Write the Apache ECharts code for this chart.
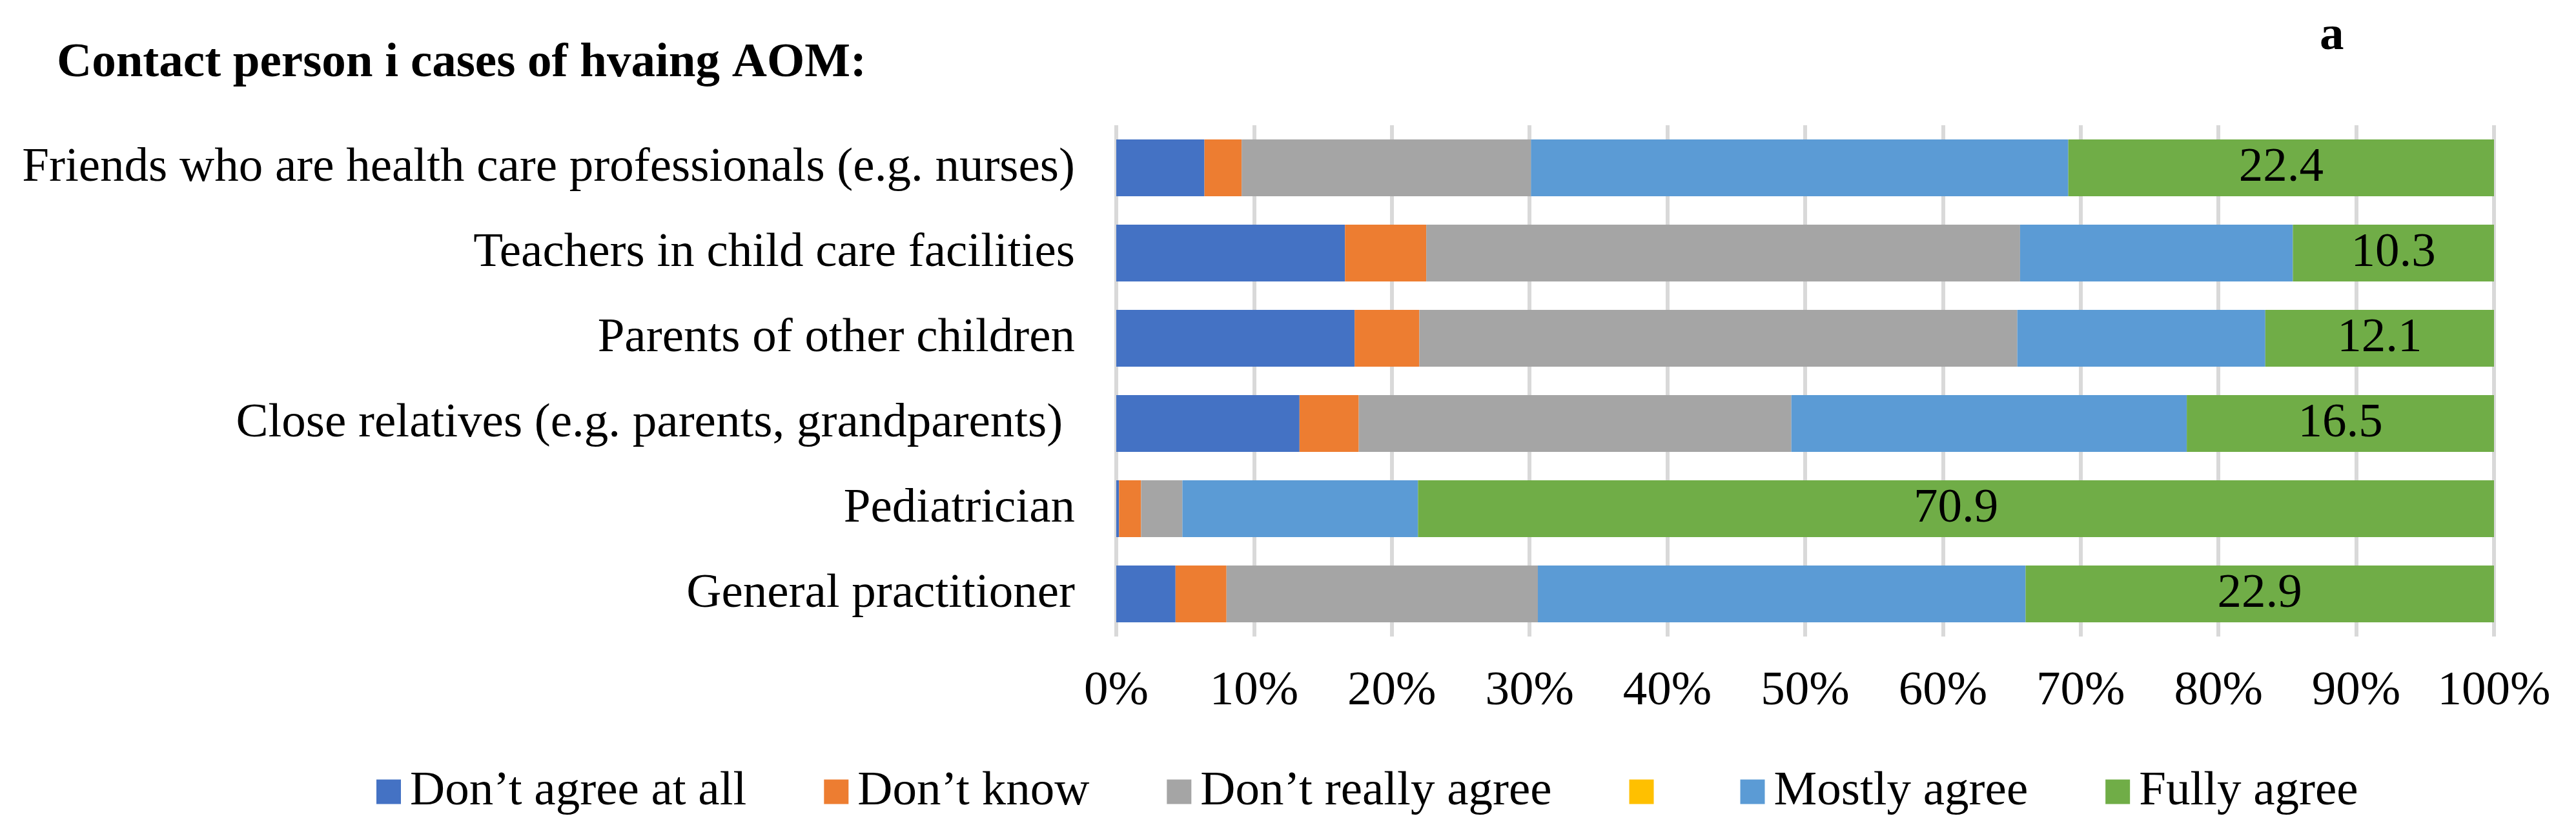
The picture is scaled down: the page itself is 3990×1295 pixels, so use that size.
<!DOCTYPE html>
<html>
<head>
<meta charset="utf-8">
<script src="https://cdn.jsdelivr.net/npm/echarts@6/dist/echarts.min.js"></script>
<style>
html,body{margin:0;padding:0;background:#fff;}
#chart{width:3990px;height:1295px;}
</style>
</head>
<body>
<div id="chart"></div>
<script>
// Categories, top to bottom
var categories = [
  'Friends who are health care professionals (e.g. nurses)',
  'Teachers in child care facilities',
  'Parents of other children',
  'Close relatives (e.g. parents, grandparents) ',
  'Pediatrician',
  'General practitioner'
];
var seriesNames = ['Don\u2019t agree at all', 'Don\u2019t know', 'Don\u2019t really agree', '\u200b', 'Mostly agree', 'Fully agree'];
// Segment shares (%), same order as categories
var dontAgreeAtAll   = [6.4, 16.6, 17.3, 13.3, 0.2, 4.3];
var dontKnow         = [2.7, 5.9, 4.7, 4.3, 1.6, 3.7];
var dontReallyAgree  = [21.0, 43.1, 43.4, 31.4, 3.0, 22.6];
var unnamed          = [0, 0, 0, 0, 0, 0];
var mostlyAgree      = [39.0, 19.8, 18.0, 28.7, 17.1, 35.4];
var fullyAgree       = [30.9, 14.6, 16.6, 22.3, 78.1, 34.0];
// Data labels printed on the "Fully agree" segments
var fullyAgreeLabels = ['22.4', '10.3', '12.1', '16.5', '70.9', '22.9'];
var xTicks = [0, 10, 20, 30, 40, 50, 60, 70, 80, 90, 100];

var colors = ['#4472C4', '#ED7D31', '#A5A5A5', '#FFC000', '#5B9BD5', '#70AD47'];
var raw = [dontAgreeAtAll, dontKnow, dontReallyAgree, unnamed, mostlyAgree, fullyAgree];
var totals = categories.map(function (c, i) {
  var s = 0; raw.forEach(function (arr) { s += arr[i]; }); return s;
});
var FONT = 'Liberation Serif';

var series = raw.map(function (arr, k) {
  var s = {
    name: seriesNames[k],
    type: 'bar',
    stack: 'total',
    barWidth: 88,
    itemStyle: { color: colors[k] },
    data: arr.map(function (v, i) { return v / totals[i] * 100; }),
    emphasis: { disabled: true }
  };
  if (k === 5) {
    s.label = {
      show: true,
      position: 'inside',
      fontFamily: FONT,
      fontSize: 75,
      color: '#000',
      formatter: function (p) { return fullyAgreeLabels[p.dataIndex]; }
    };
  }
  return s;
});

var chart = echarts.init(document.getElementById('chart'));
chart.setOption({
  backgroundColor: '#fff',
  animation: false,
  title: [
    { text: 'Contact person i cases of hvaing AOM:', left: 83, top: 56,
      textStyle: { fontFamily: FONT, fontSize: 75, fontWeight: 'bold', color: '#000', lineHeight: 75 } },
    { text: 'a', left: 3588, top: 14,
      textStyle: { fontFamily: FONT, fontSize: 75, fontWeight: 'bold', color: '#000', lineHeight: 75 } }
  ],
  legend: {
    left: 578,
    top: 1184,
    icon: 'rect',
    itemWidth: 38,
    itemHeight: 38,
    itemGap: 120,
    selectedMode: false,
    data: seriesNames,
    textStyle: { fontFamily: FONT, fontSize: 75, color: '#000', lineHeight: 75, padding: [0, 0, 0, 9] }
  },
  grid: { left: 1729, right: 127, top: 194, bottom: 309, containLabel: false },
  xAxis: {
    type: 'value',
    min: xTicks[0],
    max: xTicks[xTicks.length - 1],
    interval: 10,
    axisLine: { show: false },
    axisTick: { show: false },
    splitLine: { show: true, lineStyle: { color: '#D9D9D9', width: 6 } },
    axisLabel: { margin: 48, fontFamily: FONT, fontSize: 75, color: '#000', formatter: '{value}%' }
  },
  yAxis: {
    type: 'category',
    inverse: true,
    data: categories,
    axisLine: { show: false },
    axisTick: { show: false },
    axisLabel: { margin: 64, fontFamily: FONT, fontSize: 75, color: '#000' }
  },
  series: series
});
</script>
</body>
</html>
